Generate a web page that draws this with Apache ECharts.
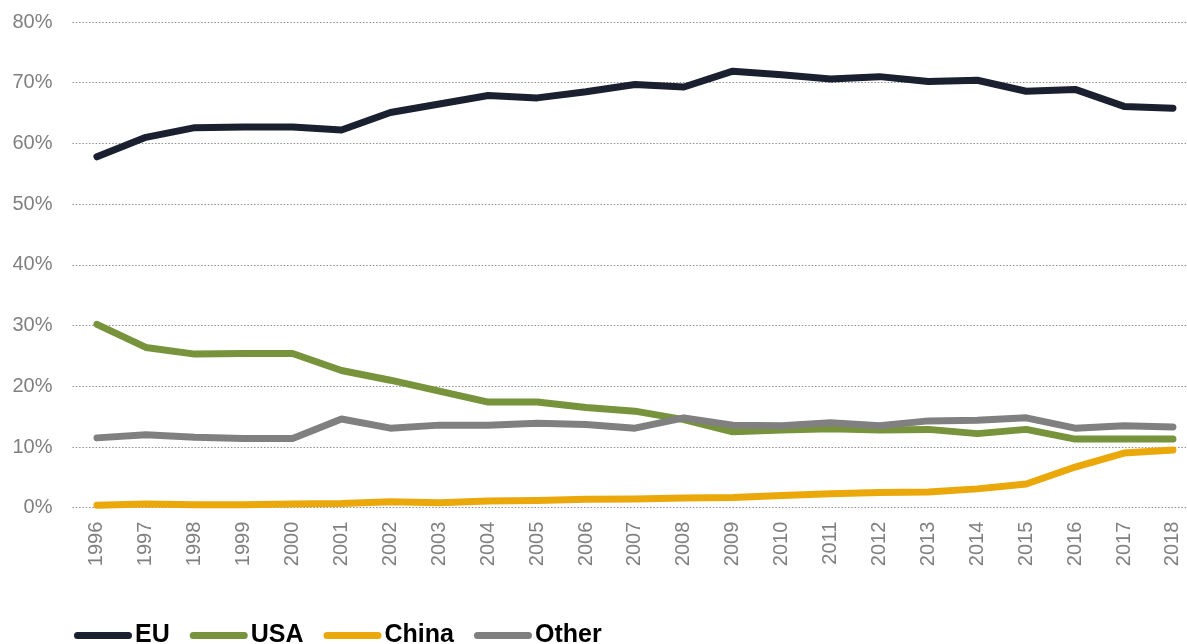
<!DOCTYPE html>
<html>
<head>
<meta charset="utf-8">
<style>
  html, body { margin: 0; padding: 0; background: #ffffff; overflow: hidden; }
  /* the plot area runs slightly past the right edge of the window */
  #chart { width: 1200px; height: 644px; }
</style>
<script src="https://cdn.jsdelivr.net/npm/echarts@6/dist/echarts.min.js"></script>
</head>
<body>
<div id="chart"></div>
<script>
// Years on the category axis
const years = ['1996','1997','1998','1999','2000','2001','2002','2003','2004','2005','2006','2007',
               '2008','2009','2010','2011','2012','2013','2014','2015','2016','2017','2018'];

// Shares per region, in percent
const euShare    = [57.8, 61.0, 62.6, 62.7, 62.7, 62.2, 65.1, 66.5, 67.9, 67.5, 68.5, 69.7,
                    69.3, 71.9, 71.3, 70.6, 71.0, 70.2, 70.4, 68.6, 68.9, 66.1, 65.8];
const usaShare   = [30.2, 26.4, 25.3, 25.4, 25.4, 22.6, 21.0, 19.2, 17.4, 17.4, 16.5, 15.9,
                    14.5, 12.5, 12.8, 13.0, 12.8, 12.9, 12.2, 12.9, 11.3, 11.3, 11.3];
const chinaShare = [0.4, 0.6, 0.5, 0.5, 0.6, 0.7, 1.0, 0.8, 1.1, 1.2, 1.4, 1.45,
                    1.6, 1.7, 2.0, 2.3, 2.5, 2.6, 3.1, 3.9, 6.7, 9.0, 9.5];
const otherShare = [11.5, 12.0, 11.6, 11.4, 11.4, 14.6, 13.1, 13.6, 13.6, 13.9, 13.7, 13.1,
                    14.8, 13.6, 13.5, 14.0, 13.5, 14.3, 14.4, 14.8, 13.1, 13.5, 13.3];

// Y axis range and step (percent)
const yMin = 0, yMax = 80, yStep = 10;

const seriesDefs = [
  { name: 'EU',    data: euShare,    color: '#1b2030' },
  { name: 'USA',   data: usaShare,   color: '#77933c' },
  { name: 'China', data: chinaShare, color: '#eba80a' },
  { name: 'Other', data: otherShare, color: '#808080' }
];

const chart = echarts.init(document.getElementById('chart'), null, { renderer: 'canvas' });

const gridLine = { color: '#8f8f8f', width: 1.2, type: [1.5, 1.8] };

chart.setOption({
  animation: false,
  backgroundColor: '#ffffff',
  grid: { left: 72.5, right: 2.6, top: 22, bottom: 136.3, containLabel: false },
  legend: {
    left: 69,
    top: 618,
    itemWidth: 58,
    itemHeight: 7,
    itemGap: 20,
    icon: 'path://M3.5,0 H54.5 A3.5,3.5 0 0 1 54.5,7 H3.5 A3.5,3.5 0 0 1 3.5,0 Z',
    textStyle: {
      fontFamily: 'Liberation Sans, Arial, sans-serif',
      fontWeight: 'bold',
      fontSize: 25,
      color: '#000000',
      padding: [0, 0, 0, -2]
    },
    data: seriesDefs.map(s => s.name)
  },
  xAxis: {
    type: 'category',
    data: years,
    boundaryGap: true,
    axisLine: { show: false },
    axisTick: { show: false },
    axisLabel: {
      rotate: 90,
      margin: 14,
      interval: 0,
      fontFamily: 'Liberation Sans, Arial, sans-serif',
      fontSize: 20,
      color: '#808080'
    },
    splitLine: { show: false }
  },
  yAxis: {
    type: 'value',
    min: yMin,
    max: yMax,
    interval: yStep,
    axisLine: { show: false },
    axisTick: { show: false },
    axisLabel: {
      margin: 20,
      formatter: v => v + '%',
      fontFamily: 'Liberation Sans, Arial, sans-serif',
      fontSize: 20,
      color: '#808080'
    },
    splitLine: { show: true, lineStyle: gridLine }
  },
  series: seriesDefs.map(s => ({
    name: s.name,
    type: 'line',
    data: s.data,
    symbol: 'none',
    smooth: false,
    color: s.color,
    lineStyle: { width: 7, color: s.color, cap: 'round', join: 'round' },
    emphasis: { disabled: true }
  }))
});
</script>
</body>
</html>
